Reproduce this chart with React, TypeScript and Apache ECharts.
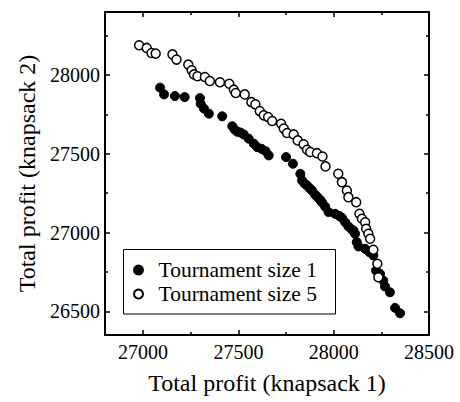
import React, { useEffect, useRef } from "react";
import * as echarts from "echarts";

const xMajorTicks = [27000, 27500, 28000, 28500];
const xMinorTicks = [27250, 27750, 28250];
const yMajorTicks = [26500, 27000, 27500, 28000];
const yMinorTicks = [26750, 27250, 27750, 28250];

const seriesNames = ["Tournament size 1", "Tournament size 5"];

const size1: number[][] = [
  [27089, 27920], [27110, 27877], [27167, 27867], [27218, 27860], [27298, 27854],
  [27302, 27818], [27319, 27787], [27345, 27755], [27415, 27738], [27468, 27675],
  [27481, 27653], [27495, 27640], [27511, 27635], [27528, 27623], [27554, 27596],
  [27581, 27564], [27598, 27543], [27621, 27532], [27642, 27517], [27659, 27490],
  [27750, 27479], [27786, 27437], [27825, 27373], [27834, 27331], [27848, 27310],
  [27860, 27299], [27875, 27280], [27886, 27267], [27903, 27240], [27915, 27225],
  [27929, 27208], [27938, 27193], [27955, 27165], [27973, 27130], [28008, 27119],
  [28030, 27105], [28043, 27094], [28060, 27066], [28077, 27039], [28094, 27020],
  [28104, 27013], [28112, 26992], [28121, 26939], [28130, 26912], [28165, 26897],
  [28187, 26876], [28208, 26855], [28222, 26759], [28243, 26738], [28260, 26696],
  [28269, 26658], [28295, 26621], [28322, 26522], [28348, 26488],
];

const size5: number[][] = [
  [26979, 28189], [27019, 28172], [27044, 28140], [27066, 28136], [27154, 28131],
  [27175, 28098], [27237, 28066], [27255, 28030], [27267, 28004], [27285, 27992],
  [27324, 27987], [27350, 27962], [27403, 27954], [27452, 27945], [27476, 27907],
  [27486, 27886], [27533, 27877], [27568, 27828], [27589, 27814], [27612, 27771],
  [27633, 27744], [27656, 27733], [27677, 27708], [27724, 27691], [27738, 27660],
  [27755, 27632], [27790, 27623], [27811, 27585], [27842, 27560], [27860, 27526],
  [27877, 27511], [27912, 27504], [27941, 27483], [27957, 27420], [28024, 27373],
  [28043, 27320], [28069, 27267], [28077, 27225], [28118, 27193], [28135, 27119],
  [28148, 27088], [28165, 27066], [28170, 27024], [28182, 26992], [28191, 26961],
  [28208, 26891], [28229, 26802], [28234, 26717],
];

const FONT = "Liberation Serif";

export default function App() {
  const ref = useRef<HTMLDivElement>(null);
  useEffect(() => {
    if (!ref.current) return;
    const chart = echarts.init(ref.current, undefined, { renderer: "svg" });
    const X_MIN = 26800, X_MAX = 28500, Y_MIN = 26350, Y_MAX = 28400;
    const line = { show: true, lineStyle: { color: "#000", width: 2 } };
    const fmt = (v: number) => String(v);
    const mkX = (pos: string, ticks: number[], len: number, labels: boolean, showLine: boolean, name?: string) => ({
      type: "value",
      position: pos,
      min: X_MIN,
      max: X_MAX,
      name: name,
      nameLocation: "middle",
      nameGap: 36,
      nameTextStyle: { fontFamily: FONT, fontSize: 24, color: "#000" },
      axisLine: showLine ? line : { show: false },
      axisTick: { show: true, inside: true, length: len, customValues: ticks, lineStyle: { color: "#000", width: 1.5 } },
      axisLabel: labels
        ? { show: true, customValues: ticks, formatter: fmt, fontFamily: FONT, fontSize: 20, color: "#000", margin: 7 }
        : { show: false },
      splitLine: { show: false },
    });
    const mkY = (pos: string, ticks: number[], len: number, labels: boolean, showLine: boolean, name?: string) => ({
      type: "value",
      position: pos,
      min: Y_MIN,
      max: Y_MAX,
      name: name,
      nameLocation: "middle",
      nameGap: 66,
      nameTextStyle: { fontFamily: FONT, fontSize: 24, color: "#000" },
      axisLine: showLine ? line : { show: false },
      axisTick: { show: true, inside: true, length: len, customValues: ticks, lineStyle: { color: "#000", width: 1.5 } },
      axisLabel: labels
        ? { show: true, customValues: ticks, formatter: fmt, fontFamily: FONT, fontSize: 20, color: "#000", margin: 5 }
        : { show: false },
      splitLine: { show: false },
    });
    chart.setOption({
      animation: false,
      backgroundColor: "#fff",
      textStyle: { fontFamily: FONT, color: "#000" },
      grid: { left: 105, right: 31, top: 12, bottom: 67, containLabel: false },
      xAxis: [
        mkX("bottom", xMajorTicks, 5, true, true, "Total profit (knapsack 1)"),
        mkX("bottom", xMinorTicks, 3, false, false),
        mkX("top", xMajorTicks, 5, false, true),
        mkX("top", xMinorTicks, 3, false, false),
      ],
      yAxis: [
        mkY("left", yMajorTicks, 5, true, true, "Total profit (knapsack 2)"),
        mkY("left", yMinorTicks, 3, false, false),
        mkY("right", yMajorTicks, 5, false, true),
        mkY("right", yMinorTicks, 3, false, false),
      ],
      graphic: [
        {
          type: "rect",
          z: 10,
          shape: { x: 123.5, y: 249.5, width: 212, height: 64.5 },
          style: { fill: "#fff", stroke: "#000", lineWidth: 1 },
        },
      ],
      legend: {
        left: 125,
        top: 259,
        z: 20,
        orient: "vertical",
        itemWidth: 30,
        itemHeight: 9,
        itemGap: 2,
        padding: [0, 0, 0, 8],
        textStyle: { fontFamily: FONT, fontSize: 21.5, color: "#000", lineHeight: 21 },
        data: seriesNames,
      },
      series: [
        {
          name: seriesNames[0],
          type: "scatter",
          xAxisIndex: 0,
          yAxisIndex: 0,
          symbol: "circle",
          symbolSize: 9,
          itemStyle: { color: "#000", borderColor: "#000", borderWidth: 1, opacity: 1 },
          data: size1,
        },
        {
          name: seriesNames[1],
          type: "scatter",
          xAxisIndex: 0,
          yAxisIndex: 0,
          symbol: "circle",
          symbolSize: 9,
          itemStyle: { color: "#fff", borderColor: "#000", borderWidth: 1.5, opacity: 1 },
          data: size5,
        },
      ],
    });
    return () => chart.dispose();
  }, []);
  return <div ref={ref} style={{ position: "absolute", left: 0, top: 0, width: 460, height: 402 }} />;
}
